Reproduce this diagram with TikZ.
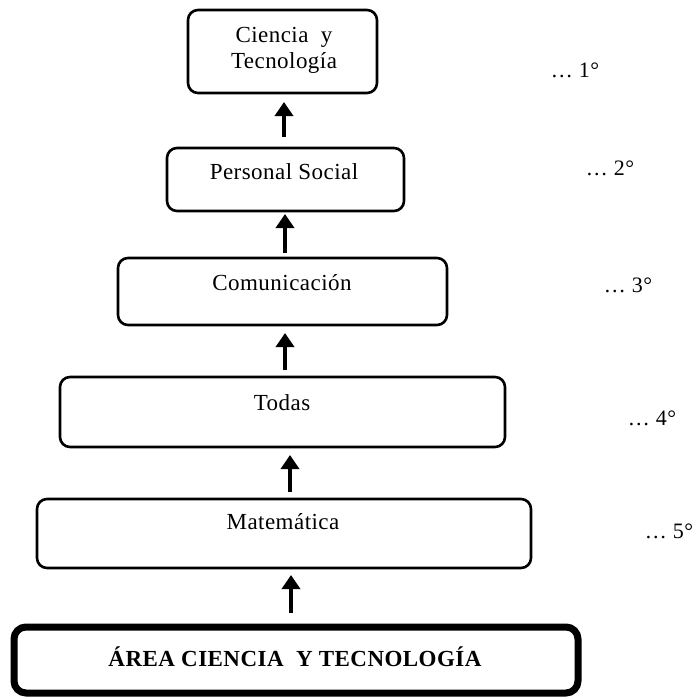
\documentclass[tikz,border=0pt]{standalone}
\usepackage{fontspec}
\setmainfont{Liberation Serif}[LetterSpace=2]
\usetikzlibrary{arrows.meta}
\tikzset{
  box/.style={draw, line width=2.6pt, rounded corners=10pt, inner sep=0pt},
  basebox/.style={draw, line width=7pt, rounded corners=12pt, inner sep=0pt},
  lbl/.style={font=\fontsize{23}{26}\selectfont, align=center, inner sep=0pt},
  rank/.style={font=\fontsize{22}{25}\selectfont, inner sep=0pt},
  up/.style={-{Triangle[width=18pt,length=14pt]}, line width=4.4pt, shorten >=-3pt}
}
\begin{document}
\begin{tikzpicture}[x=1pt,y=-1pt]
\useasboundingbox (0,0) rectangle (699,699);
% boxes
\node[box, minimum width=189pt, minimum height=83pt] (b1) at (282.5,51.5) {};
\node[box, minimum width=237pt, minimum height=63pt] (b2) at (285.5,179.5) {};
\node[box, minimum width=329pt, minimum height=67pt] (b3) at (282.5,291.5) {};
\node[box, minimum width=445pt, minimum height=70pt] (b4) at (282.5,412) {};
\node[box, minimum width=494pt, minimum height=69pt] (b5) at (284,533.5) {};
\node[basebox, minimum width=564pt, minimum height=66pt] (b6) at (296,660) {};
% texts
\node[lbl] (t1) at (284,50) {Ciencia\ \ y\\Tecnología};
\node[lbl] (t2) at (284,172) {Personal Social};
\node[lbl] (t3) at (282,283) {Comunicación};
\node[lbl] (t4) at (282,403) {Todas};
\node[lbl] (t5) at (283,522) {Matemática};
\node[lbl, font=\fontsize{23}{26}\selectfont\bfseries] (t6) at (295,657) {ÁREA CIENCIA\ \ Y TECNOLOGÍA};
% ranks
\node[rank] (r1) at (575,70) {… 1°};
\node[rank] (r2) at (610,168) {… 2°};
\node[rank] (r3) at (628,285) {… 3°};
\node[rank] (r4) at (652,418) {… 4°};
\node[rank] (r5) at (669,531) {… 5°};
% arrows
\coordinate (a1s) at (284,137); \coordinate (a1e) at (284,105);
\coordinate (a2s) at (285,253); \coordinate (a2e) at (285,217);
\coordinate (a3s) at (285,370); \coordinate (a3e) at (285,336);
\coordinate (a4s) at (290,492); \coordinate (a4e) at (290,458);
\coordinate (a5s) at (291,613); \coordinate (a5e) at (291,578);
\draw[up] (a1s) -- (a1e);
\draw[up] (a2s) -- (a2e);
\draw[up] (a3s) -- (a3e);
\draw[up] (a4s) -- (a4e);
\draw[up] (a5s) -- (a5e);
\end{tikzpicture}
\end{document}
